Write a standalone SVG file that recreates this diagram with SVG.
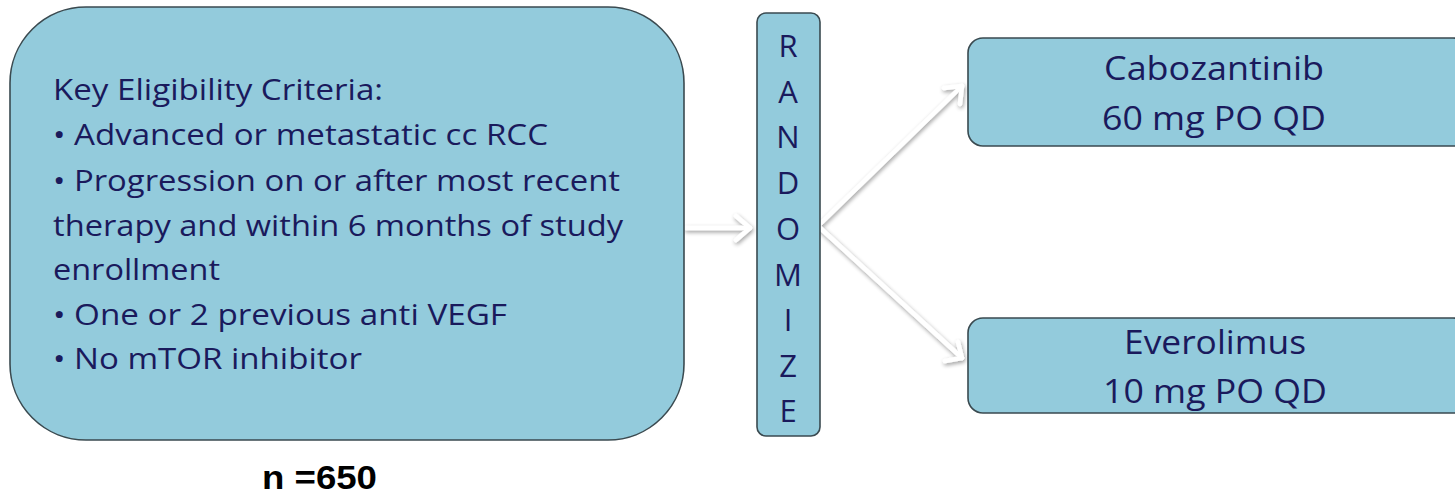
<svg xmlns="http://www.w3.org/2000/svg" width="1455" height="498" viewBox="0 0 1455 498">
  <defs>
    <style>
      .box { fill: #93CBDC; stroke: #3a4a50; stroke-width: 1.6; }
      .txt { font-family: "Open Sans", "Lato", "Liberation Sans", sans-serif; fill: #1a1a5c; }
      .conn { fill: none; stroke: #ffffff; stroke-width: 4.5; stroke-linecap: round; stroke-linejoin: round; }
    </style>
    <filter id="shadow" x="-20%" y="-20%" width="140%" height="140%">
      <feGaussianBlur in="SourceAlpha" stdDeviation="2"/>
      <feOffset dx="1" dy="2" result="b"/>
      <feComponentTransfer><feFuncA type="linear" slope="0.4"/></feComponentTransfer>
      <feMerge><feMergeNode/><feMergeNode in="SourceGraphic"/></feMerge>
    </filter>
  </defs>
  <rect width="1455" height="498" fill="#ffffff"/>

  <!-- connectors -->
  <g id="connectors" filter="url(#shadow)">
    <path class="conn" d="M 686 228 L 750 228"/>
    <path class="conn" d="M 736 216 L 750 228 L 736 240"/>
    <path class="conn" d="M 818 226 L 962 86"/>
    <path class="conn" d="M 944 88 L 962 86 L 960 104"/>
    <path class="conn" d="M 818 226 L 962 358"/>
    <path class="conn" d="M 945 361 L 962 358 L 958 342"/>
  </g>

  <!-- eligibility criteria -->
  <g id="criteria">
    <rect class="box" x="10" y="7" width="674" height="433" rx="76" ry="76"/>
    <g class="txt" font-size="29">
      <text x="53" y="100" textLength="330" lengthAdjust="spacingAndGlyphs">Key Eligibility Criteria:</text>
      <text x="53" y="145" textLength="495" lengthAdjust="spacingAndGlyphs">• Advanced or metastatic cc RCC</text>
      <text x="53" y="191" textLength="567" lengthAdjust="spacingAndGlyphs">• Progression on or after most recent</text>
      <text x="53" y="236" textLength="570" lengthAdjust="spacingAndGlyphs">therapy and within 6 months of study</text>
      <text x="53" y="280" textLength="167" lengthAdjust="spacingAndGlyphs">enrollment</text>
      <text x="53" y="325" textLength="454" lengthAdjust="spacingAndGlyphs">• One or 2 previous anti VEGF</text>
      <text x="53" y="369" textLength="309" lengthAdjust="spacingAndGlyphs">• No mTOR inhibitor</text>
    </g>
  </g>

  <!-- randomize column -->
  <g id="randomize">
    <rect class="box" x="757" y="13" width="63" height="423" rx="9" ry="9"/>
    <g class="txt" font-size="31" text-anchor="middle">
      <text x="788" y="57">R</text>
      <text x="788" y="103">A</text>
      <text x="788" y="148">N</text>
      <text x="788" y="194">D</text>
      <text x="788" y="240">O</text>
      <text x="788" y="286">M</text>
      <text x="788" y="331">I</text>
      <text x="788" y="377">Z</text>
      <text x="788" y="422">E</text>
    </g>
  </g>

  <!-- arm 1 -->
  <g id="cabozantinib">
    <rect class="box" x="968" y="38" width="500" height="108" rx="15" ry="15"/>
    <g class="txt" font-size="32">
      <text x="1104" y="80" textLength="220" lengthAdjust="spacingAndGlyphs">Cabozantinib</text>
      <text x="1102" y="130" textLength="224" lengthAdjust="spacingAndGlyphs">60 mg PO QD</text>
    </g>
  </g>

  <!-- arm 2 -->
  <g id="everolimus">
    <rect class="box" x="968" y="318" width="500" height="95" rx="15" ry="15"/>
    <g class="txt" font-size="32">
      <text x="1124" y="354" textLength="182" lengthAdjust="spacingAndGlyphs">Everolimus</text>
      <text x="1103" y="403" textLength="224" lengthAdjust="spacingAndGlyphs">10 mg PO QD</text>
    </g>
  </g>

  <!-- sample size -->
  <g id="sample-size">
    <text x="262" y="489" textLength="115" lengthAdjust="spacingAndGlyphs" font-family="Liberation Sans, Arial, sans-serif" font-weight="bold" font-size="33" fill="#000000">n =650</text>
  </g>
</svg>
